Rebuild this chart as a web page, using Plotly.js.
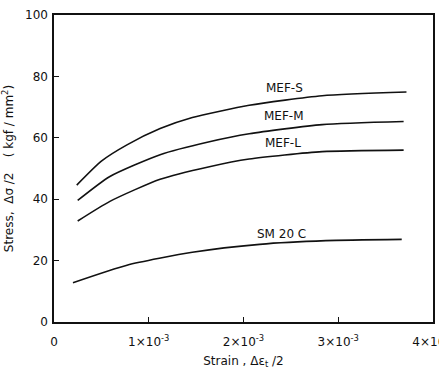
<!DOCTYPE html>
<html>
<head>
<meta charset="utf-8">
<script src="https://cdn.plot.ly/plotly-3.0.1.min.js"></script>
<style>html,body{margin:0;padding:0;background:#fff;}#chart{width:439px;height:377px;}</style>
</head>
<body>
<div id="chart"></div>
<script>
// Strain values (x) and stress values (y, kgf/mm^2)
const strainS = [0.00024, 0.00050, 0.00077, 0.00112, 0.00146, 0.00206, 0.00283, 0.00372];
const stressS = [44.6, 52.4, 57.7, 63.0, 66.6, 70.6, 73.7, 74.9];
const strainM = [0.00025, 0.00059, 0.00112, 0.00164, 0.00206, 0.00283, 0.00369];
const stressM = [39.6, 47.4, 54.5, 58.7, 61.3, 64.3, 65.3];
const strainL = [0.00025, 0.00059, 0.00112, 0.00164, 0.00206, 0.00283, 0.00369];
const stressL = [32.9, 39.3, 46.5, 50.6, 53.1, 55.5, 56.0];
const strainC = [0.00020, 0.00077, 0.00146, 0.00217, 0.00287, 0.00367];
const stressC = [12.8, 18.5, 22.7, 25.3, 26.5, 26.9];
const seriesNames = ["MEF-S", "MEF-M", "MEF-L", "SM 20 C"];
const xTickVals = [0, 0.001, 0.002, 0.003, 0.004];
const xTickText = ["0", "1×10<sup>-3</sup>", "2×10<sup>-3</sup>", "3×10<sup>-3</sup>", "4×10<sup>-3</sup>"];
const yTickVals = [0, 20, 40, 60, 80, 100];

const font = "DejaVu Sans, sans-serif";
const lineStyle = {color: "#111", width: 1.6, shape: "spline", smoothing: 0.6};
const xs = [strainS, strainM, strainL, strainC];
const ys = [stressS, stressM, stressL, stressC];
const traces = xs.map((x, i) => ({
  x: x, y: ys[i], type: "scatter", mode: "lines", name: seriesNames[i],
  line: lineStyle, hoverinfo: "skip"
}));

const labelPos = [[0.00243, 76.3], [0.00243, 67.0], [0.00242, 58.3], [0.00240, 28.8]];
const annotations = seriesNames.map((n, i) => ({
  x: labelPos[i][0], y: labelPos[i][1], xref: "x", yref: "y",
  text: n, showarrow: false, font: {family: font, size: 12, color: "#111"}
}));

const axisCommon = {
  showgrid: false, zeroline: false, showline: true, mirror: true,
  linecolor: "#111", linewidth: 1.6, ticks: "inside", ticklen: 5,
  tickcolor: "#111", tickwidth: 1.2,
  tickfont: {family: font, size: 12, color: "#111"}
};

const layout = {
  width: 439, height: 377,
  margin: {l: 54, r: 6, t: 15, b: 55},
  paper_bgcolor: "#fff", plot_bgcolor: "#fff",
  showlegend: false,
  xaxis: Object.assign({}, axisCommon, {
    range: [0, 0.004], tickmode: "array", tickvals: xTickVals, ticktext: xTickText,
    ticklabeloverflow: "allow", ticklabelstandoff: 8,
    title: {text: "Strain , Δε<sub>t</sub> /2", font: {family: font, size: 12, color: "#111"}, standoff: 8}
  }),
  yaxis: Object.assign({}, axisCommon, {
    range: [0, 100], tickmode: "array", tickvals: yTickVals, ticklabelstandoff: 2,
    title: {text: "Stress,  Δσ /2    ( kgf / mm<sup>2</sup>)", font: {family: font, size: 12, color: "#111"}, standoff: 10}
  }),
  annotations: annotations
};

Plotly.newPlot("chart", traces, layout, {displayModeBar: false, staticPlot: true});
</script>
</body>
</html>
